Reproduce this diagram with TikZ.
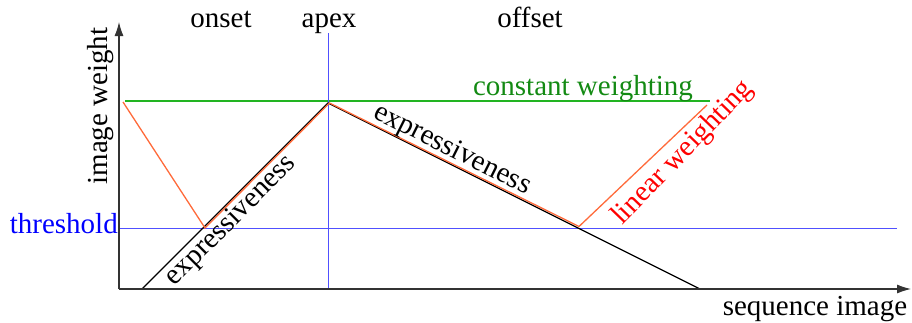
\documentclass[tikz,border=0pt]{standalone}
\usepackage{fontspec}
\setmainfont{Liberation Serif}
\usetikzlibrary{arrows.meta,positioning}
\definecolor{wOrange}{HTML}{FF6A3A}
\definecolor{wGreen}{HTML}{22B422}
\definecolor{wGreenText}{HTML}{138A13}
\definecolor{wBlue}{HTML}{5050FF}
\definecolor{axisInk}{HTML}{333333}

\begin{document}
\begin{tikzpicture}[x=1pt,y=-1pt,>=Latex,
  lbl/.style={font=\fontsize{29}{32}\selectfont,inner sep=0pt},
  axisline/.style={line width=1.1pt,draw=axisInk,-{Latex[length=14pt,width=9pt]}},
  curveline/.style={line width=1.3pt}]
\useasboundingbox (0,0) rectangle (912,322);
% key points
\coordinate (O) at (119,289);
\coordinate (ytop) at (119,22);
\coordinate (xend) at (911,289);
\coordinate (apex) at (328,103);
\coordinate (start) at (142,289);
\coordinate (stop) at (700,289);
\coordinate (cstL) at (125,101);
\coordinate (cstR) at (710,101);
\coordinate (thL) at (119,228);
\coordinate (thR) at (897,228);
\coordinate (vtop) at (328,33);
\coordinate (vbot) at (328,289);
\coordinate (linA) at (123,102);
\coordinate (onT) at (205,228);
\coordinate (offT) at (579,228);
\coordinate (linB) at (707,105);
% reference lines
\draw[curveline,wGreen] (cstL) -- (cstR);
\draw[line width=1pt,wBlue] (thL) -- (thR);
\draw[line width=1pt,wBlue] (vtop) -- (vbot);
% expressiveness and weighting
\draw[curveline,black] (start) -- (apex) -- (stop);
\draw[curveline,wOrange] (linA) -- (onT) -- ([xshift=1.5pt]apex) -- ([yshift=1.5pt]offT) -- (linB);
% axes
\draw[axisline] (O) -- (ytop);
\draw[axisline] (O) -- (xend);
% labels
\node[lbl,anchor=base] (onset) at (221,27) {onset};
\node[lbl,anchor=base] (apexlbl) at (329,27) {apex};
\node[lbl,anchor=base] (offset) at (530,27) {offset};
\node[lbl,rotate=90] (ylbl) at (101,106) {image weight};
\node[lbl,anchor=base east,text=blue] (thlbl) at (118,233) {threshold};
\node[lbl,anchor=base,text=wGreenText] (cstlbl) at (583,95) {constant weighting};
\node[lbl,anchor=base] (xlbl) at (815,315) {sequence image};
\node[lbl,rotate=45] (expup) at (231,221) {expressiveness};
\node[lbl,rotate=-26.6] (expdown) at (452,150) {expressiveness};
\node[lbl,rotate=46,text=red] (linlbl) at (683,153) {linear weighting};
\end{tikzpicture}
\end{document}
